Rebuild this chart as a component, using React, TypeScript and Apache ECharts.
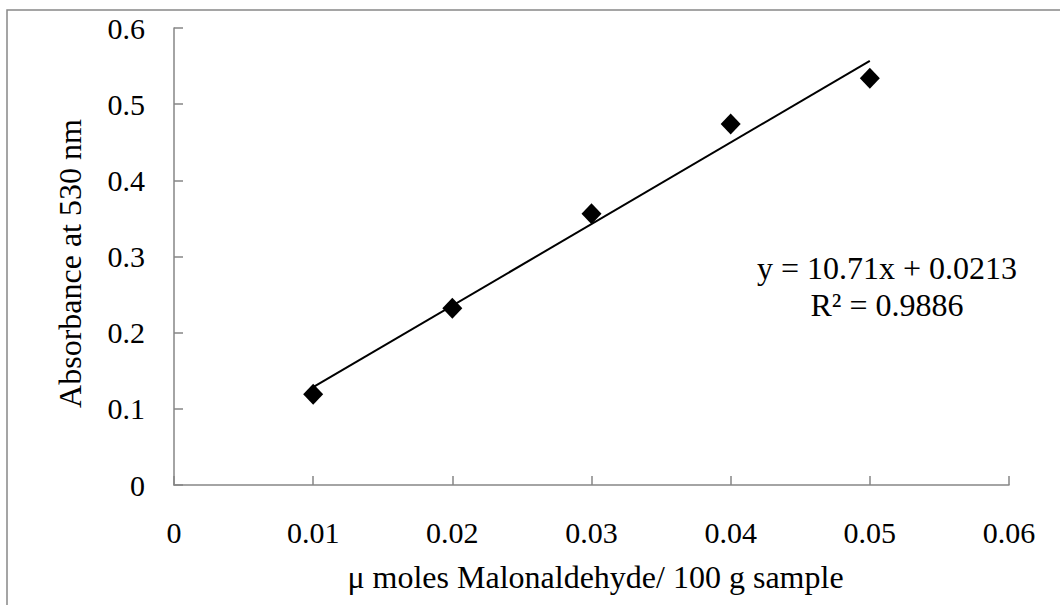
import React, { useEffect, useRef } from "react";
import * as echarts from "echarts";

const concentrations = [0.01, 0.02, 0.03, 0.04, 0.05];
const absorbances = [0.119, 0.232, 0.356, 0.474, 0.534];
const slope = 10.71;
const intercept = 0.0213;
const equationLabel = "y = 10.71x + 0.0213";
const r2Label = "R² = 0.9886";
const xTitle = "μ moles Malonaldehyde/ 100 g sample";
const yTitle = "Absorbance at 530 nm";

const FONT = "Liberation Serif";

export default function App() {
  const ref = useRef<HTMLDivElement>(null);
  useEffect(() => {
    if (!ref.current) return;
    const chart = echarts.init(ref.current, undefined, { renderer: "svg" });
    const xs = [concentrations[0], concentrations[concentrations.length - 1]];
    const trend = xs.map((x) => [x, slope * x + intercept]);
    const axisColor = "#868686";
    chart.setOption({
      animation: false,
      backgroundColor: "#ffffff",
      textStyle: { fontFamily: FONT },
      grid: { left: 174, right: 51, top: 28, bottom: 120 },
      xAxis: {
        type: "value",
        min: 0,
        max: 0.06,
        interval: 0.01,
        splitLine: { show: false },
        axisLine: { lineStyle: { color: axisColor, width: 1.5 } },
        axisTick: { inside: true, length: 9, lineStyle: { color: axisColor, width: 1.5 } },
        axisLabel: {
          color: "#000",
          fontFamily: FONT,
          fontSize: 30,
          margin: 32,
          formatter: (v: number) => (v === 0 ? "0" : v.toFixed(2)),
        },
        name: xTitle,
        nameLocation: "middle",
        nameGap: 76,
        nameTextStyle: { color: "#000", fontFamily: FONT, fontSize: 32, padding: [0, 0, 0, 8] },
      },
      yAxis: {
        type: "value",
        min: 0,
        max: 0.6,
        interval: 0.1,
        splitLine: { show: false },
        axisLine: { show: true, lineStyle: { color: axisColor, width: 1.5 } },
        axisTick: { show: true, inside: true, length: 9, lineStyle: { color: axisColor, width: 1.5 } },
        axisLabel: {
          color: "#000",
          fontFamily: FONT,
          fontSize: 30,
          margin: 29,
          formatter: (v: number) => (v === 0 ? "0" : v.toFixed(1)),
        },
        name: yTitle,
        nameLocation: "middle",
        nameGap: 88,
        nameTextStyle: { color: "#000", fontFamily: FONT, fontSize: 32, padding: [0, 14, 0, 0] },
      },
      graphic: [
        {
          type: "rect",
          shape: { x: 7, y: 10, width: 1100, height: 700 },
          style: { fill: "none", stroke: "#888888", lineWidth: 1.5 },
          silent: true,
        },
        {
          type: "text",
          x: 887,
          y: 268,
          style: {
            text: equationLabel,
            fontFamily: FONT,
            fontSize: 32,
            fill: "#000",
            align: "center",
            verticalAlign: "middle",
          },
        },
        {
          type: "text",
          x: 887,
          y: 305,
          style: {
            text: r2Label,
            fontFamily: FONT,
            fontSize: 32,
            fill: "#000",
            align: "center",
            verticalAlign: "middle",
          },
        },
      ],
      series: [
        {
          type: "line",
          data: trend,
          symbol: "none",
          lineStyle: { color: "#000", width: 2 },
          z: 2,
        },
        {
          type: "scatter",
          data: concentrations.map((x, i) => [x, absorbances[i]]),
          symbol: "diamond",
          symbolSize: [20, 21],
          itemStyle: { color: "#000", opacity: 1 },
          z: 3,
        },
      ],
    });
    return () => chart.dispose();
  }, []);
  return (
    <div
      ref={ref}
      style={{ position: "absolute", left: 0, top: 0, width: 1060, height: 605 }}
    />
  );
}
